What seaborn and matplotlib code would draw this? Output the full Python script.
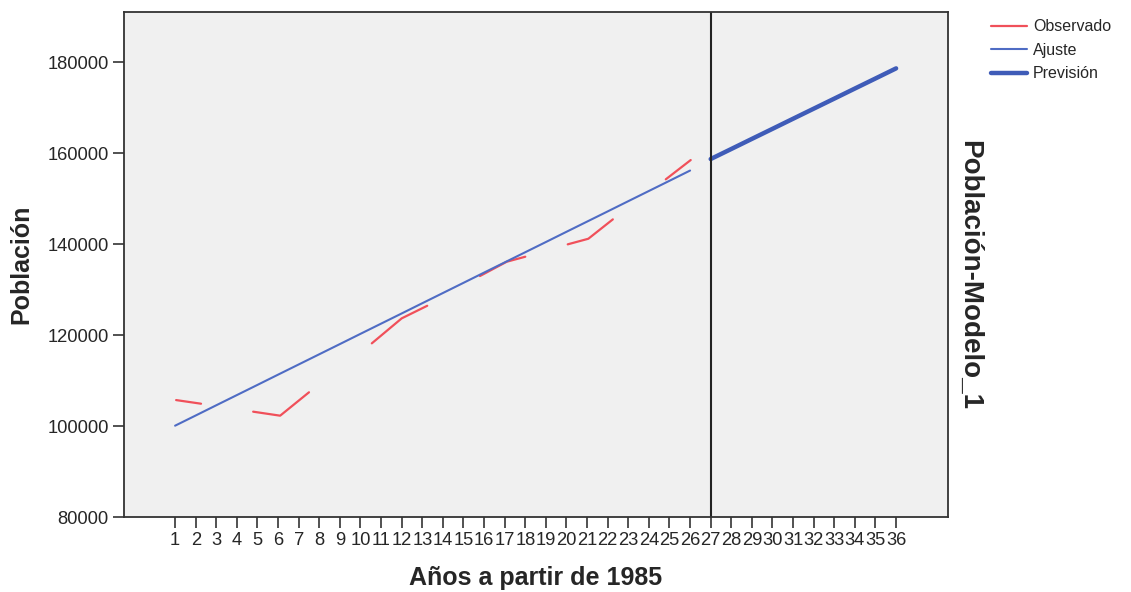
import numpy as np
import pandas as pd
import matplotlib
matplotlib.use('Agg')
import matplotlib.pyplot as plt
from matplotlib.lines import Line2D
import seaborn as sns

# Observed series: segments with gaps (SPSS draws only runs of valid points)
obs_segment = [1, 1, 2, 2, 2, 3, 3, 3, 4, 4, 4, 5, 5, 5, 6, 6]
obs_x = [1.05, 2.26,
         4.79, 6.1, 7.5,
         10.55, 12.0, 13.24,
         15.8, 17.1, 18.0,
         20.06, 21.06, 22.25,
         24.82, 26.03]
obs_y = [105700, 104900,
         103150, 102270, 107410,
         118170, 123660, 126430,
         132970, 136110, 137210,
         139930, 141160, 145420,
         154220, 158460]

fit_x = list(range(1, 27))
fit_y = [100070, 102310, 104560, 106800, 109040, 111290, 113530, 115770,
         118010, 120260, 122500, 124740, 126990, 129230, 131470, 133720,
         135960, 138200, 140440, 142690, 144930, 147170, 149420, 151660,
         153900, 156150]

fc_x = list(range(27, 37))
fc_y = [158680, 160890, 163110, 165320, 167540, 169750, 171960, 174180,
        176390, 178610]

x_ticks = list(range(1, 37))
y_ticks = [80000, 100000, 120000, 140000, 160000, 180000]

RED = '#f0505a'
BLUE = '#4f6cc4'
BLUE_DARK = '#3f5cb8'

sns.set_theme(style='white')
plt.rcParams['font.family'] = ['Liberation Sans', 'DejaVu Sans']

fig = plt.figure(figsize=(11.31, 5.92), dpi=100)
ax = fig.add_axes([124 / 1131, 1 - 517 / 592, (948 - 124) / 1131, (517 - 12) / 592])
ax.set_facecolor('#f0f0f0')

obs_df = pd.DataFrame({'x': obs_x, 'y': obs_y, 'seg': obs_segment})
sns.lineplot(data=obs_df, x='x', y='y', units='seg', estimator=None,
             color=RED, linewidth=1.6, ax=ax, legend=False)

fit_df = pd.DataFrame({'x': fit_x, 'y': fit_y})
sns.lineplot(data=fit_df, x='x', y='y', color=BLUE, linewidth=1.5, ax=ax)

fc_df = pd.DataFrame({'x': fc_x, 'y': fc_y})
sns.lineplot(data=fc_df, x='x', y='y', color=BLUE_DARK, linewidth=3.2, ax=ax)

ax.axvline(27, color='#222222', linewidth=1.5)

ax.set_xlim(1 - 2.48, 36 + 2.52)
ax.set_ylim(80000, 191000)
ax.set_xticks(x_ticks)
ax.set_xticklabels([str(v) for v in x_ticks])
ax.set_yticks(y_ticks)
ax.set_yticklabels([str(v) for v in y_ticks])
ax.tick_params(axis='both', which='major', direction='out', length=8,
               width=1.2, color='#333333', labelsize=13.2, pad=3,
               bottom=True, left=True)
for sp in ax.spines.values():
    sp.set_color('#333333')
    sp.set_linewidth(1.3)

ax.set_xlabel('Años a partir de 1985', fontsize=18, fontweight='bold', labelpad=12)
ax.set_ylabel('Población', fontsize=18, fontweight='bold', labelpad=10)
fig.text(969 / 1131, 1 - 275 / 592, 'Población-Modelo_1', rotation=270,
         fontsize=20, fontweight='bold', ha='center', va='center')

handles = [Line2D([], [], color=RED, linewidth=1.6),
           Line2D([], [], color=BLUE, linewidth=1.5),
           Line2D([], [], color=BLUE_DARK, linewidth=3.2)]
fig.legend(handles, ['Observado', 'Ajuste', 'Previsión'],
           loc='upper left', bbox_to_anchor=(985 / 1131, 1 - 13 / 592),
           frameon=False, fontsize=11.5, handlelength=2.2,
           handletextpad=0.4, labelspacing=0.53, borderaxespad=0)

fig.savefig('out.png', dpi=100)
